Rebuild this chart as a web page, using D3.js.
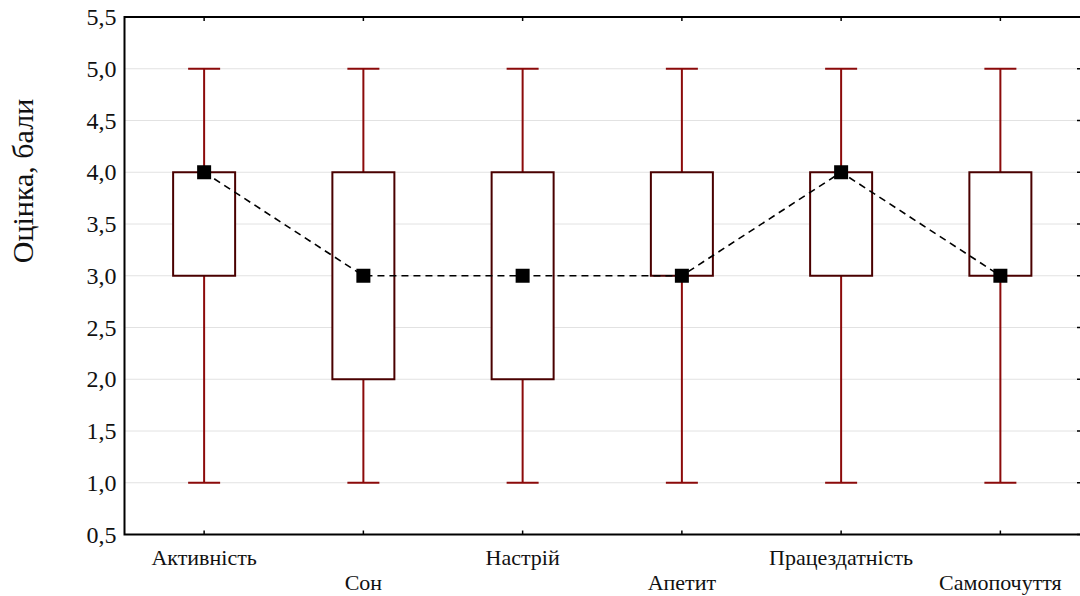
<!DOCTYPE html>
<html><head><meta charset="utf-8">
<script src="https://cdn.jsdelivr.net/npm/d3@7"></script>
<style>body{margin:0;background:#fff}svg{display:block}text{font-family:"Liberation Serif","Times New Roman",serif}</style>
</head><body><svg id="c" width="1080" height="596"></svg>
<script>
const categories = ["Активність","Сон","Настрій","Апетит","Працездатність","Самопочуття"];
const medians = [4,3,3,3,4,3];
const q1 = [3,2,2,3,3,3];
const q3 = [4,4,4,4,4,4];
const mins = [1,1,1,1,1,1];
const maxs = [5,5,5,5,5,5];
const yTicks = [0.5,1.0,1.5,2.0,2.5,3.0,3.5,4.0,4.5,5.0,5.5];

const svg = d3.select("#c");
const L=124.5, R=1080, T=17, B=534.5;
const x = d3.scaleBand().domain(categories).range([L,R]);
const y = d3.scaleLinear().domain([0.5,5.5]).range([B,T]);
const fmt = d => d3.format(".1f")(d).replace(".",",");

// grid
svg.append("g").selectAll("line").data(yTicks.slice(1,-1)).join("line")
  .attr("x1",L).attr("x2",R).attr("y1",d=>y(d)).attr("y2",d=>y(d))
  .attr("stroke","#e2e2e2").attr("stroke-width",1);

// left axis
const ya = svg.append("g").attr("transform",`translate(${L},0)`)
  .call(d3.axisLeft(y).tickValues(yTicks).tickFormat(fmt).tickSize(0).tickPadding(8));
ya.select(".domain").remove();
ya.selectAll("text").attr("font-size",24).attr("fill","#111");
// right ticks
svg.append("g").selectAll("line").data(yTicks).join("line")
  .attr("x1",R-3).attr("x2",R).attr("y1",d=>y(d)).attr("y2",d=>y(d)).attr("stroke","#000").attr("stroke-width",1.5);

// frame
svg.append("path").attr("d",`M${R},${T}H${L}V${B}H${R}`).attr("fill","none").attr("stroke","#000").attr("stroke-width",2);

// x ticks top & bottom
const cx = d => x(d)+x.bandwidth()/2;
svg.append("g").selectAll("line").data(categories).join("line")
  .attr("x1",cx).attr("x2",cx).attr("y1",T).attr("y2",T+4).attr("stroke","#000").attr("stroke-width",1.5);
svg.append("g").selectAll("line").data(categories).join("line")
  .attr("x1",cx).attr("x2",cx).attr("y1",B-4).attr("y2",B).attr("stroke","#000").attr("stroke-width",1.5);

// x labels staggered
svg.append("g").selectAll("text").data(categories).join("text")
  .attr("x",cx).attr("y",(d,i)=> i%2===0 ? 565 : 590)
  .attr("text-anchor","middle").attr("font-size",22).attr("fill","#111").text(d=>d);

// y label
svg.append("text").attr("transform","translate(33,181) rotate(-90)")
  .attr("text-anchor","middle").attr("font-size",30).attr("fill","#111").text("Оцінка, бали");

const bw = 62, cw = 32;
const idx = d3.range(categories.length);
const wc = "#8b0a0a", bc = "#4a0000";
const g = svg.append("g");
// whiskers
g.selectAll(".wu").data(idx).join("line").attr("x1",i=>cx(categories[i])).attr("x2",i=>cx(categories[i]))
  .attr("y1",i=>y(q3[i])).attr("y2",i=>y(maxs[i])).attr("stroke",wc).attr("stroke-width",2);
g.selectAll(".wl").data(idx).join("line").attr("x1",i=>cx(categories[i])).attr("x2",i=>cx(categories[i]))
  .attr("y1",i=>y(q1[i])).attr("y2",i=>y(mins[i])).attr("stroke",wc).attr("stroke-width",2);
g.selectAll(".cu").data(idx).join("line").attr("x1",i=>cx(categories[i])-cw/2).attr("x2",i=>cx(categories[i])+cw/2)
  .attr("y1",i=>y(maxs[i])).attr("y2",i=>y(maxs[i])).attr("stroke",wc).attr("stroke-width",2);
g.selectAll(".cl").data(idx).join("line").attr("x1",i=>cx(categories[i])-cw/2).attr("x2",i=>cx(categories[i])+cw/2)
  .attr("y1",i=>y(mins[i])).attr("y2",i=>y(mins[i])).attr("stroke",wc).attr("stroke-width",2);
// boxes
g.selectAll("rect").data(idx).join("rect")
  .attr("x",i=>cx(categories[i])-bw/2).attr("width",bw)
  .attr("y",i=>y(q3[i])).attr("height",i=>y(q1[i])-y(q3[i]))
  .attr("fill","#fff").attr("stroke",bc).attr("stroke-width",2);

// median line
svg.append("path").datum(idx)
  .attr("d",d3.line().x(i=>cx(categories[i])).y(i=>y(medians[i])))
  .attr("fill","none").attr("stroke","#000").attr("stroke-width",1.6).attr("stroke-dasharray","7,5");
// markers
const ms = 14;
svg.append("g").selectAll("rect").data(idx).join("rect")
  .attr("x",i=>cx(categories[i])-ms/2).attr("y",i=>y(medians[i])-ms/2)
  .attr("width",ms).attr("height",ms).attr("fill","#000");
</script></body></html>
